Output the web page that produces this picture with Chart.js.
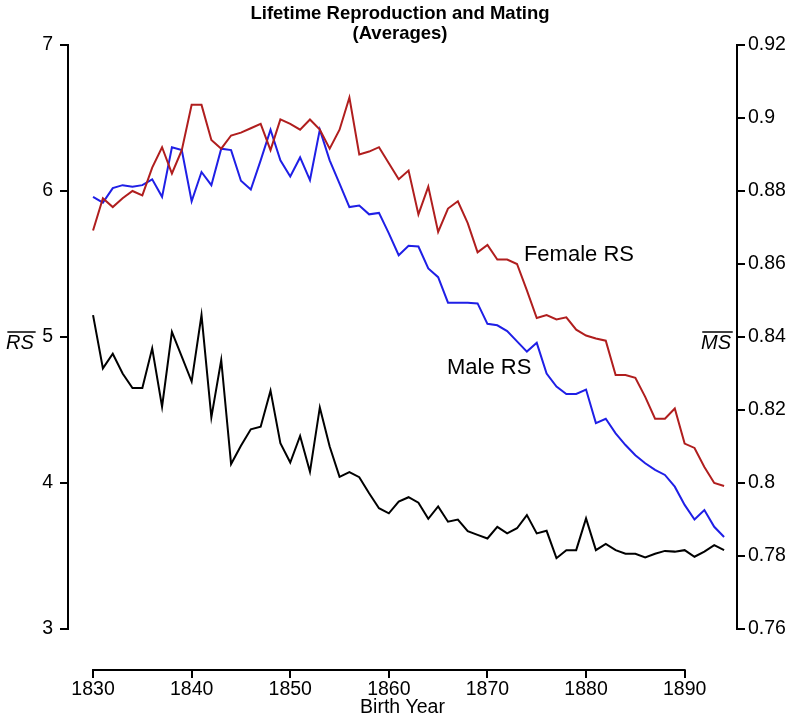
<!DOCTYPE html>
<html><head><meta charset="utf-8">
<script src="https://cdn.jsdelivr.net/npm/chart.js@4.4.1/dist/chart.umd.min.js"></script>
<style>html,body{margin:0;padding:0;background:#fff}canvas{display:block}</style>
</head><body>
<canvas id="c" width="800" height="718"></canvas>
<script>
const years = [1830,1831,1832,1833,1834,1835,1836,1837,1838,1839,
  1840,1841,1842,1843,1844,1845,1846,1847,1848,1849,
  1850,1851,1852,1853,1854,1855,1856,1857,1858,1859,
  1860,1861,1862,1863,1864,1865,1866,1867,1868,1869,
  1870,1871,1872,1873,1874,1875,1876,1877,1878,1879,
  1880,1881,1882,1883,1884,1885,1886,1887,1888,1889,
  1890,1891,1892,1893,1894];
const femaleRS = [5.73,5.95,5.89,5.95,6.00,5.97,6.16,6.30,6.12,6.28,
  6.59,6.59,6.35,6.29,6.38,6.40,6.43,6.46,6.28,6.49,
  6.46,6.42,6.49,6.42,6.29,6.42,6.64,6.25,6.27,6.30,
  6.19,6.08,6.14,5.84,6.03,5.72,5.88,5.93,5.78,5.58,
  5.63,5.53,5.53,5.50,5.32,5.13,5.15,5.12,5.135,5.05,
  5.01,4.99,4.975,4.74,4.74,4.72,4.59,4.44,4.44,4.51,
  4.27,4.24,4.11,4.00,3.98];
const maleRS = [5.96,5.92,6.02,6.04,6.03,6.04,6.08,5.96,6.30,6.28,
  5.93,6.13,6.04,6.29,6.28,6.07,6.01,6.21,6.42,6.21,
  6.10,6.23,6.075,6.42,6.21,6.05,5.89,5.90,5.84,5.85,
  5.71,5.56,5.625,5.62,5.47,5.41,5.235,5.235,5.235,5.23,
  5.09,5.08,5.04,4.97,4.90,4.96,4.75,4.66,4.61,4.61,
  4.64,4.41,4.44,4.34,4.26,4.19,4.135,4.09,4.055,3.975,
  3.85,3.75,3.815,3.70,3.63];
const matingMS = [0.8460,0.8314,0.8354,0.8300,0.8260,0.8260,0.8369,0.8209,0.8414,0.8346,
  0.8278,0.8460,0.8180,0.8337,0.8052,0.8102,0.8147,0.8154,0.8253,0.8109,
  0.8056,0.8129,0.8031,0.8207,0.8100,0.8017,0.8030,0.8016,0.7972,0.7931,
  0.7917,0.7949,0.7961,0.7946,0.7902,0.7936,0.7894,0.7900,0.7868,0.7858,
  0.7848,0.7880,0.7862,0.7876,0.7912,0.7862,0.7869,0.7794,0.7816,0.7816,
  0.7903,0.7816,0.7833,0.7816,0.7806,0.7806,0.7796,0.7806,0.7814,0.7812,
  0.7816,0.7798,0.7812,0.7830,0.7816];
const xTicks = [1830,1840,1850,1860,1870,1880,1890];
const rsTicks = [3,4,5,6,7];
const msTicks = [0.76,0.78,0.80,0.82,0.84,0.86,0.88,0.90,0.92];
const msTickLabels = ['0.76','0.78','0.8','0.82','0.84','0.86','0.88','0.9','0.92'];
const titleLines = ['Lifetime Reproduction and Mating','(Averages)'];

const FONT = "'Liberation Sans', Arial, Helvetica, sans-serif";
const pts = arr => years.map((y,i)=>({x:y,y:arr[i]}));

const axesPlugin = {
  id:'rAxes',
  afterDraw(chart){
    const ctx = chart.ctx, a = chart.chartArea;
    const x = chart.scales.x, y = chart.scales.y, y1 = chart.scales.y1;
    ctx.save();
    ctx.strokeStyle='#000'; ctx.lineWidth=2; ctx.lineCap='square';
    ctx.beginPath();
    ctx.moveTo(x.getPixelForValue(xTicks[0]), a.bottom);
    ctx.lineTo(x.getPixelForValue(xTicks[xTicks.length-1]), a.bottom);
    ctx.moveTo(a.left, y.getPixelForValue(rsTicks[0]));
    ctx.lineTo(a.left, y.getPixelForValue(rsTicks[rsTicks.length-1]));
    ctx.moveTo(a.right, y1.getPixelForValue(msTicks[0]));
    ctx.lineTo(a.right, y1.getPixelForValue(msTicks[msTicks.length-1]));
    ctx.stroke();
    // title
    ctx.fillStyle='#000';
    ctx.textAlign='center'; ctx.textBaseline='alphabetic';
    ctx.font = 'bold 18.5px ' + FONT;
    ctx.fillText(titleLines[0], 400, 19);
    ctx.fillText(titleLines[1], 400, 39);
    // axis titles with overline
    ctx.font = 'italic 20px ' + FONT;
    const drawOver = (txt, cx, base) => {
      const w = ctx.measureText(txt).width;
      ctx.fillText(txt, cx, base);
      ctx.lineWidth = 1.5;
      ctx.beginPath();
      ctx.moveTo(cx - w/2 + 2, base - 17);
      ctx.lineTo(cx + w/2 + 1, base - 17);
      ctx.stroke();
    };
    drawOver('RS', 20, 349);
    drawOver('MS', 716, 349);
    // series labels
    ctx.font = '22px ' + FONT;
    ctx.textAlign='left'; ctx.textBaseline='middle';
    ctx.fillText('Female RS', x.getPixelForValue(1873.7), y.getPixelForValue(5.56));
    ctx.fillText('Male RS', x.getPixelForValue(1865.9), y.getPixelForValue(4.79));
    ctx.restore();
  }
};

const tickFont = {family: FONT, size: 19.5};
const gridCfg = {drawOnChartArea:false, drawTicks:true, tickLength:8, color:'#000', lineWidth:2};

new Chart(document.getElementById('c'), {
  type:'line',
  data:{datasets:[
    {label:'Female RS', data:pts(femaleRS), borderColor:'#b01e1e', borderWidth:2, pointRadius:0, yAxisID:'y', tension:0},
    {label:'Male RS', data:pts(maleRS), borderColor:'#1f1fe6', borderWidth:2, pointRadius:0, yAxisID:'y', tension:0},
    {label:'MS', data:pts(matingMS), borderColor:'#000', borderWidth:2, pointRadius:0, yAxisID:'y1', tension:0}
  ]},
  options:{
    responsive:false, animation:false, devicePixelRatio:1,
    layout:{padding:{top:45,left:0,right:0,bottom:0}},
    plugins:{legend:{display:false}, tooltip:{enabled:false}, title:{display:false}},
    scales:{
      x:{type:'linear', position:'bottom', min:1827.46, max:1895.31,
        afterBuildTicks:s=>{s.ticks = xTicks.map(v=>({value:v}));},
        afterFit:s=>{s.height = 48;},
        grid:gridCfg, border:{display:false},
        ticks:{color:'#000', font:tickFont, padding:0, maxRotation:0, autoSkip:false, callback:v=>String(v)},
        title:{display:true, text:'Birth Year', color:'#000', font:{family:FONT,size:19.5}, padding:{top:0,bottom:-1}}
      },
      y:{type:'linear', position:'left', min:2.71918, max:7,
        afterBuildTicks:s=>{s.ticks = rsTicks.map(v=>({value:v}));},
        afterFit:s=>{s.width = 68;},
        grid:gridCfg, border:{display:false},
        ticks:{color:'#000', font:tickFont, padding:7, autoSkip:false, callback:v=>String(v)}
      },
      y1:{type:'linear', position:'right', min:0.748767, max:0.92,
        afterBuildTicks:s=>{s.ticks = msTicks.map(v=>({value:v}));},
        afterFit:s=>{s.width = 63;},
        grid:gridCfg, border:{display:false},
        ticks:{color:'#000', font:tickFont, padding:3, autoSkip:false, callback:(v,i)=>msTickLabels[i]}
      }
    }
  },
  plugins:[axesPlugin]
});
</script>
</body></html>
